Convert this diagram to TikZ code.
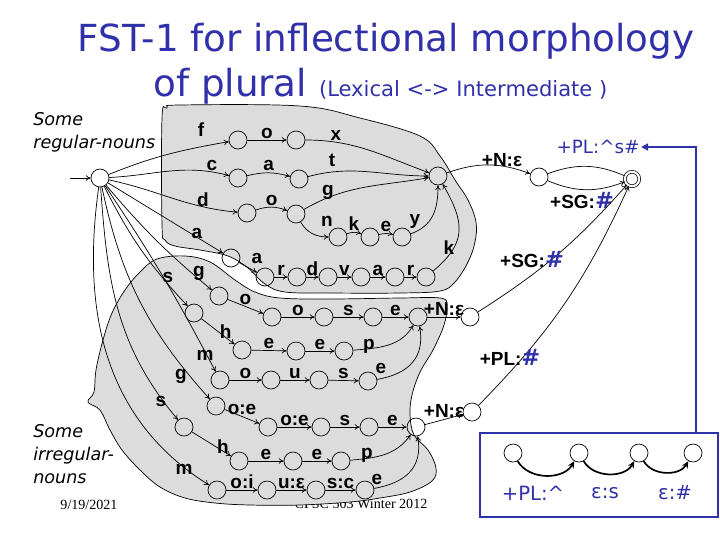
\documentclass[tikz,border=0pt]{standalone}
\usepackage{fontspec}
\setmainfont{Liberation Serif}
\newfontfamily\comicfont{DejaVu Sans}
\newfontfamily\lblfont{Liberation Sans}
\usetikzlibrary{arrows.meta}
\definecolor{fstblue}{RGB}{48,48,170}
\definecolor{blobgrey}{RGB}{220,220,220}
\newcommand{\bluehash}{{\comicfont\bfseries\fontsize{16}{16}\selectfont\textcolor{fstblue}{\#}}}
\tikzset{st/.style={draw,circle,minimum size=0.45cm,inner sep=0pt,line width=0.5pt},
 fin/.style={st,double,double distance=1.5pt,minimum size=0.36cm},
 lb/.style={font=\lblfont\bfseries\fontsize{13.5}{13.5}\selectfont,inner sep=1pt},
 bl/.style={font=\comicfont\fontsize{13}{13}\selectfont,text=fstblue,inner sep=1pt},
 ar/.style={line width=0.5pt,-{To[length=3.5pt,width=4pt]}},
 bar/.style={line width=1.2pt,-{Stealth[length=5pt,width=4.5pt]}},
 blob/.style={fill=blobgrey,draw=black,line width=0.5pt},
 note/.style={font=\comicfont\itshape\fontsize{12.5}{16.5}\selectfont,align=left,inner sep=0pt,anchor=north west}}
\begin{document}
\begin{tikzpicture}[x=0.025cm,y=0.025cm]
\useasboundingbox (0,0) rectangle (720,-540);
% footer lies under the shaded groups
\node[font=\fontsize{10}{10}\selectfont](foot) at (361,-504){CPSC 503 Winter 2012};
\node[font=\fontsize{10}{10}\selectfont](date) at (89,-505){9/19/2021};
% shaded groups
\draw[blob] plot[smooth cycle,tension=0.6] coordinates {(162,-118) (167,-108) (180,-105) (300,-106) (360,-118) (420,-136) (440,-156) (455,-180) (468,-200) (476,-222) (475,-242) (468,-262) (455,-282) (440,-291) (400,-293) (330,-293) (285,-292) (265,-284) (248,-268) (228,-256) (200,-250) (175,-246) (165,-240) (162,-225)};
\draw[blob] plot[smooth cycle,tension=0.6] coordinates {(125,-290) (140,-272) (157,-259) (185,-256) (210,-262) (235,-280) (255,-292) (280,-298) (330,-299) (400,-298) (440,-298) (447,-305) (444,-325) (433,-350) (420,-372) (412,-395) (410,-415) (414,-435) (428,-450) (436,-468) (432,-481) (410,-492) (380,-498) (350,-502) (300,-505) (250,-505) (215,-503) (185,-498) (160,-487) (140,-470) (122,-450) (110,-430) (100,-410) (88,-402) (94,-392) (96,-370) (103,-340) (112,-313)};
% title
\node[font=\comicfont\fontsize{26.5}{30}\selectfont,text=fstblue,anchor=base,inner sep=0pt](ttl) at (386,-51){FST-1 for inflectional morphology};
\node[font=\comicfont\fontsize{26.5}{30}\selectfont,text=fstblue,anchor=base west,inner sep=0pt](sub) at (153,-96){of plural {\fontsize{15}{18}\selectfont(Lexical <-> Intermediate )}};
\node[note](reg) at (33,-112){Some\\regular-nouns};
\node[note](irr) at (33,-424){Some\\irregular-\\nouns};
% states
\coordinate (init) at (70,-178);
\node[st](q0) at (100,-178){};
\node[st](f1) at (238,-140){};\node[st](f2) at (296,-140){};
\node[st](c1) at (238,-178){};\node[st](c2) at (299,-179){};
\node[st](d1) at (247,-213){};\node[st](d2) at (296,-214){};\node[st](d3) at (338,-237){};\node[st](d4) at (370,-237){};\node[st](d5) at (402,-237){};
\node[st](a1) at (231,-258){};
\foreach \n/\x in {2/265,3/297,4/328,5/361,6/395,7/426} \node[st](a\n) at (\x,-277){};
\node[st](qn) at (438,-176){};\node[st](qp) at (539,-177){};\node[fin](qf) at (632,-179){};
\node[st](g1) at (219,-296){};\node[st](g2) at (272,-317){};\node[st](g3) at (324,-317){};\node[st](g4) at (373,-317){};\node[st](qe1) at (418,-317){};
\node[st](s1) at (194,-313){};\node[st](s2) at (242,-350){};\node[st](s3) at (296,-351){};\node[st](s4) at (344,-351){};
\node[st](m1) at (220,-380){};\node[st](m2) at (271,-380){};\node[st](m3) at (319,-380){};\node[st](m4) at (368,-381){};
\node[st](ge1) at (216,-406){};\node[st](ge2) at (268,-427){};\node[st](ge3) at (321,-427){};\node[st](ge4) at (369,-427){};\node[st](qe2) at (416,-427){};
\node[st](sh1) at (184,-427){};\node[st](sh2) at (239,-461){};\node[st](sh3) at (293,-461){};\node[st](sh4) at (341,-461){};
\node[st](mi1) at (217,-490){};\node[st](mi2) at (267,-490){};\node[st](mi3) at (316,-490){};\node[st](mi4) at (365,-490){};
\node[st](qi1) at (470,-317){};\node[st](qi2) at (472,-412){};
% regular nouns
\draw[ar](init)--(q0);
\draw[ar](q0) to[out=22,in=190] (f1) node[lb] at (201,-130){f};
\draw[ar](f1)--node[lb,above]{o}(f2);
\draw[ar](f2) to[out=0,in=160] (qn) node[lb] at (336,-135){x};
\draw[ar](q0) to[out=3,in=165] (c1) node[lb] at (212,-165){c};
\draw[ar](c1) to[bend left=15] node[lb,above]{a} (c2);
\draw[ar](c2) to[out=15,in=180] (qn) node[lb] at (332,-160){t};
\draw[ar](q0) to[out=-12,in=175] (d1) node[lb] at (203,-200){d};
\draw[ar](d1) to[bend left=20] node[lb,above]{o} (d2);
\draw[ar](d2) to[out=30,in=190] (qn) node[lb] at (328,-192){g};
\draw[ar](d2) to[out=-60,in=180] (d3) node[lb] at (327,-221){n};
\draw[ar](d3) to[bend left=20] node[lb,above]{k} (d4);
\draw[ar](d4) to[bend left=15] node[lb,above]{e} (d5);
\draw[ar](d5) to[out=20,in=-90,looseness=1.1] (qn) node[lb] at (415,-221){y};
\draw[ar](q0)--(a1) node[lb] at (197,-233){a};
\draw[ar](a1)--(a2) node[lb] at (257,-258){a};
\foreach \i/\j/\l in {2/3/r,3/4/d,4/5/v,5/6/a,6/7/r} \draw[ar](a\i)--node[lb,above]{\l}(a\j);
\draw[ar](a7) to[out=40,in=-60,looseness=1.3] (qn) node[lb] at (449,-248){k};
% irregular nouns
\draw[ar](q0) to[bend right=5] (g1) node[lb] at (199,-273){g};
\draw[ar](g1)--node[lb,above]{o}(g2);\draw[ar](g2)--node[lb,above]{o}(g3);
\draw[ar](g3)--node[lb,above]{s}(g4);\draw[ar](g4)--node[lb,above]{e}(qe1);
\draw[ar](q0) to[bend right=8] (s1) node[lb] at (168,-277){s};
\draw[ar](s1)--node[lb,right]{h}(s2);\draw[ar](s2)--node[lb,above]{e}(s3);\draw[ar](s3)--node[lb,above]{e}(s4);
\draw[ar](s4) to[out=5,in=-120] (qe1) node[lb] at (369,-346){p};
\draw[ar](q0) to[bend left=3] (m1) node[lb] at (205,-355){m};
\draw[ar](m1)--node[lb,above]{o}(m2);\draw[ar](m2)--node[lb,above]{u}(m3);\draw[ar](m3)--node[lb,above]{s}(m4);
\draw[ar](m4) to[out=10,in=-80,looseness=1.2] (qe1) node[lb] at (381,-368){e};
\draw[ar](qe1)--node[lb,above]{+N:ε}(qi1);
\draw[ar](q0) to[bend right=15] (ge1) node[lb] at (181,-376){g};
\draw[ar](ge1)--node[lb,above]{o:e}(ge2);\draw[ar](ge2)--node[lb,above]{o:e}(ge3);
\draw[ar](ge3)--node[lb,above]{s}(ge4);\draw[ar](ge4)--node[lb,above]{e}(qe2);
\draw[ar](q0) to[out=-86,in=130] (sh1) node[lb] at (161,-401){s};
\draw[ar](sh1)--node[lb,right,pos=0.6]{h}(sh2);\draw[ar](sh2)--node[lb,above]{e}(sh3);\draw[ar](sh3)--node[lb,above]{e}(sh4);
\draw[ar](sh4) to[out=5,in=-125] (qe2) node[lb] at (367,-455){p};
\draw[ar](q0) to[out=-98,in=148] (mi1) node[lb] at (184,-469){m};
\draw[ar](mi1)--node[lb,above]{o:i}(mi2);\draw[ar](mi2)--node[lb,above]{u:ε}(mi3);\draw[ar](mi3)--node[lb,above]{s:c}(mi4);
\draw[ar](mi4) to[out=10,in=-80,looseness=1.2] (qe2) node[lb] at (377,-479){e};
\draw[ar](qe2)--node[lb,above]{+N:ε}(qi2);
% to the final state
\draw[ar](qn) to[bend left=20] (qp) node[lb] at (502,-160){+N:ε};
\draw[line width=0.5pt](qp) to[bend left=22] (qf);
\node[bl](lpl) at (598,-147){+PL:\textasciicircum s\#};
\draw[ar](qp) to[bend right=22] (qf) node[lb] at (582,-201){+SG:\bluehash};
\draw[ar](qi1) to[bend right=8] (qf) node[lb] at (532,-260){+SG:\bluehash};
\draw[ar](qi2) to[bend right=10] (qf) node[lb] at (510,-357){+PL:\bluehash};
% inset: the plural suffix
\node[draw=fstblue,line width=2pt,minimum width=5.95cm,minimum height=2.1cm,inner sep=0pt](box) at (599,-475){};
\foreach \n/\x in {1/513,2/579,3/639,4/693} \node[st](b\n) at (\x,-453){};
\draw[bar](b1) to[out=-60,in=-120] (b2) node[bl,font=\comicfont\fontsize{14}{14}\selectfont] at (533,-493){+PL:\textasciicircum};
\draw[bar](b2) to[out=-60,in=-120] (b3) node[bl,font=\comicfont\fontsize{14}{14}\selectfont] at (605,-493){ε:s};
\draw[bar](b3) to[out=-60,in=-120] (b4) node[bl,font=\comicfont\fontsize{14}{14}\selectfont] at (675,-493){ε:\#};
\draw[fstblue,line width=2pt,-{Triangle[length=5pt,width=5pt]}]([xshift=2.425cm]box.north) |- (lpl.east);
\end{tikzpicture}
\end{document}
